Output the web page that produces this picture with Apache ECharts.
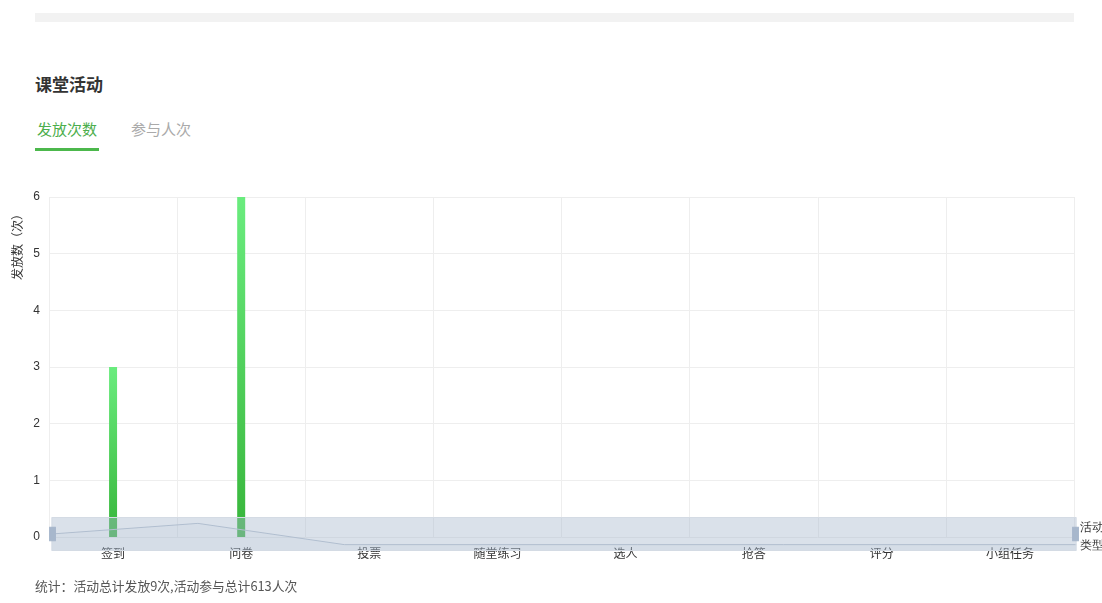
<!DOCTYPE html>
<html><head><meta charset="utf-8">
<script src="https://cdn.jsdelivr.net/npm/echarts@6/dist/echarts.min.js"></script>
<style>
html,body{margin:0;padding:0;background:#fff;width:1102px;height:603px;overflow:hidden;font-family:"Noto Sans CJK SC","Noto Sans",sans-serif;}
#topbar{position:absolute;left:35px;top:13px;width:1039px;height:9px;background:#f2f2f2;}
#title{position:absolute;left:35px;top:71px;font-size:17px;font-weight:bold;color:#333;}
#tab1{position:absolute;left:37px;top:118px;font-size:15px;color:#4cae4c;}
#tab2{position:absolute;left:131px;top:118px;font-size:15px;color:#aaa;}
#uline{position:absolute;left:35px;top:148px;width:64px;height:3px;background:#4cb84c;}
#foot{position:absolute;left:35px;top:576px;font-size:12.8px;color:#555;}
#chart{position:absolute;left:0;top:0;width:1102px;height:603px;}
</style></head>
<body>
<div id="topbar"></div>
<div id="title">课堂活动</div>
<div id="tab1">发放次数</div>
<div id="tab2">参与人次</div>
<div id="uline"></div>
<div id="chart"></div>
<div id="foot">统计：活动总计发放9次,活动参与总计613人次</div>
<script>
const categories = ['签到','问卷','投票','随堂练习','选人','抢答','评分','小组任务'];
const counts = [3, 6, 0, 0, 0, 0, 0, 0];
const yAxisName = '发放数（次）';
const xAxisName = '活动\n类型';

const chart = echarts.init(document.getElementById('chart'), null, {renderer:'canvas'});
chart.setOption({
  animation:false,
  grid:{left:49, right:28, top:197, bottom:66, containLabel:false, outerBoundsMode:'none'},
  xAxis:{
    type:'category', data:categories, boundaryGap:true,
    name:xAxisName, nameLocation:'end', nameGap:6,
    nameTextStyle:{color:'#333', fontSize:12, lineHeight:18, verticalAlign:'middle', align:'left'},
    axisLine:{show:false}, axisTick:{show:false},
    axisLabel:{color:'#333', fontSize:12, margin:10, interval:0, fontFamily:'Noto Sans CJK SC'},
    splitLine:{show:true, lineStyle:{color:'#eeeeee'}}
  },
  yAxis:{
    type:'value', min:0, max:6, interval:1,
    axisLine:{show:false}, axisTick:{show:false},
    axisLabel:{color:'#333', fontSize:12, margin:9},
    splitLine:{lineStyle:{color:'#eeeeee'}}
  },
  dataZoom:[{
    type:'slider', xAxisIndex:0, start:0, end:100,
    left:49, right:28, top:517, height:34,
    backgroundColor:'rgba(47,69,84,0)',
    fillerColor:'rgba(167,183,204,0.42)',
    borderColor:'#d4dbe4',
    showDetail:false, brushSelect:false, moveHandleSize:0,
    handleIcon:'path://M0,0 L6,0 L6,14 L0,14 Z',
    handleSize:'40%',
    handleStyle:{color:'#a7b7cc', borderColor:'#a7b7cc'},
    showDataShadow:true,
    dataBackground:{lineStyle:{color:'#b8c3d1', width:1}, areaStyle:{color:'rgba(160,175,195,0.3)'}},
    selectedDataBackground:{lineStyle:{color:'#b8c3d1', width:1}, areaStyle:{color:'rgba(160,175,195,0.3)'}}
  }],
  graphic:[{
    type:'text', left:11, top:208, rotation:Math.PI/2,
    style:{text:yAxisName, fill:'#333', font:'12px "Noto Sans CJK SC"'}
  }],
  series:[{
    type:'bar', data:counts, barWidth:8,
    itemStyle:{color:new echarts.graphic.LinearGradient(0,0,0,1,[
      {offset:0,color:'#6aec7e'},{offset:1,color:'#37b53a'}])}
  }]
});
</script>
</body></html>
